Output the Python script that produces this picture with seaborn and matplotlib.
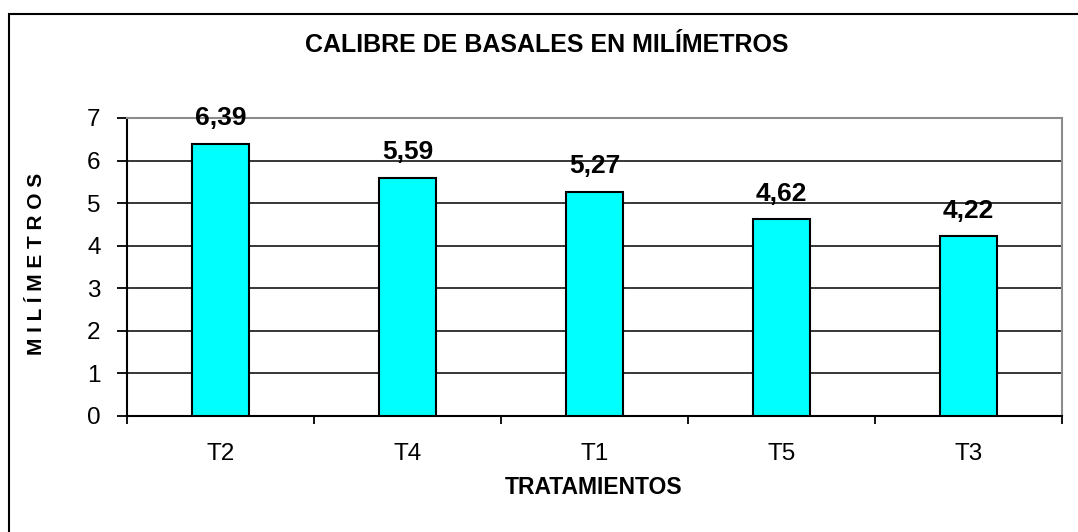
import numpy as np
import pandas as pd
import matplotlib.pyplot as plt
import matplotlib.patches as patches
import seaborn as sns

# data
tratamientos = ['T2', 'T4', 'T1', 'T5', 'T3']
calibre_mm = [6.39, 5.59, 5.27, 4.62, 4.22]
y_ticks = [0, 1, 2, 3, 4, 5, 6, 7]

df = pd.DataFrame({'tratamiento': tratamientos, 'calibre': calibre_mm})

sns.set_style('white')
plt.rcParams['font.family'] = ['Liberation Sans', 'DejaVu Sans']
plt.rcParams['text.color'] = 'black'
plt.rcParams['xtick.color'] = 'black'
plt.rcParams['ytick.color'] = 'black'

fig = plt.figure(figsize=(10.78, 5.32), dpi=100)
ax = fig.add_axes([127/1078, 1-415.7/532, (1062-127)/1078, (415.7-118)/532])

sns.barplot(data=df, x='tratamiento', y='calibre', order=tratamientos,
            color='#00FFFF', saturation=1, width=0.31,
            edgecolor='black', linewidth=1.5, ax=ax, zorder=3)

ax.set_ylim(0, 7)
ax.set_xlim(-0.5, len(tratamientos) - 0.5)
ax.set_yticks(y_ticks)
ax.yaxis.grid(True, color='black', linewidth=1.1, zorder=0)
ax.set_axisbelow(True)

# spines
for s in ['left', 'bottom']:
    ax.spines[s].set_color('black')
    ax.spines[s].set_linewidth(1.5)
for s in ['top', 'right']:
    ax.spines[s].set_color('#8c8c8c')
    ax.spines[s].set_linewidth(1.5)

# ticks: labels at centres, marks at category boundaries
ax.set_xticks(np.arange(-0.5, len(tratamientos)), minor=True)
ax.tick_params(axis='x', which='major', length=0, pad=20, labelsize=17.5)
ax.tick_params(axis='x', which='minor', length=6, width=1.3, direction='out', bottom=True)
ax.tick_params(axis='y', length=7, width=1.3, direction='out', left=True,
               pad=12, labelsize=17.5)

ax.set_xlabel('')
ax.set_ylabel('')

for i, v in enumerate(calibre_mm):
    ax.annotate(f'{v:.2f}'.replace('.', ','), xy=(i, v), xytext=(0, 18.5),
                textcoords='offset points', ha='center', va='center',
                fontsize=19, fontweight='bold', zorder=5)

fig.text(547/1078, 1-45/532, 'CALIBRE DE BASALES EN MILÍMETROS', ha='center', va='center',
         fontsize=18, fontweight='bold')
fig.text(594/1078, 1-487/532, 'TRATAMIENTOS', ha='center', va='center',
         fontsize=16.5, fontweight='bold')
fig.text(37/1078, 1-264/532, 'M I L Í M E T R O S', ha='center', va='center',
         rotation=90, fontsize=15, fontweight='bold')

# outer chart frame (only left/top edges are visible in the crop)
frame = patches.Rectangle((9/1078, -0.2), 1.2, (1 - 14/532) + 0.2, transform=fig.transFigure,
                          fill=False, edgecolor='black', linewidth=1.5, clip_on=False)
fig.patches.append(frame)

fig.savefig('out.png', dpi=100)
